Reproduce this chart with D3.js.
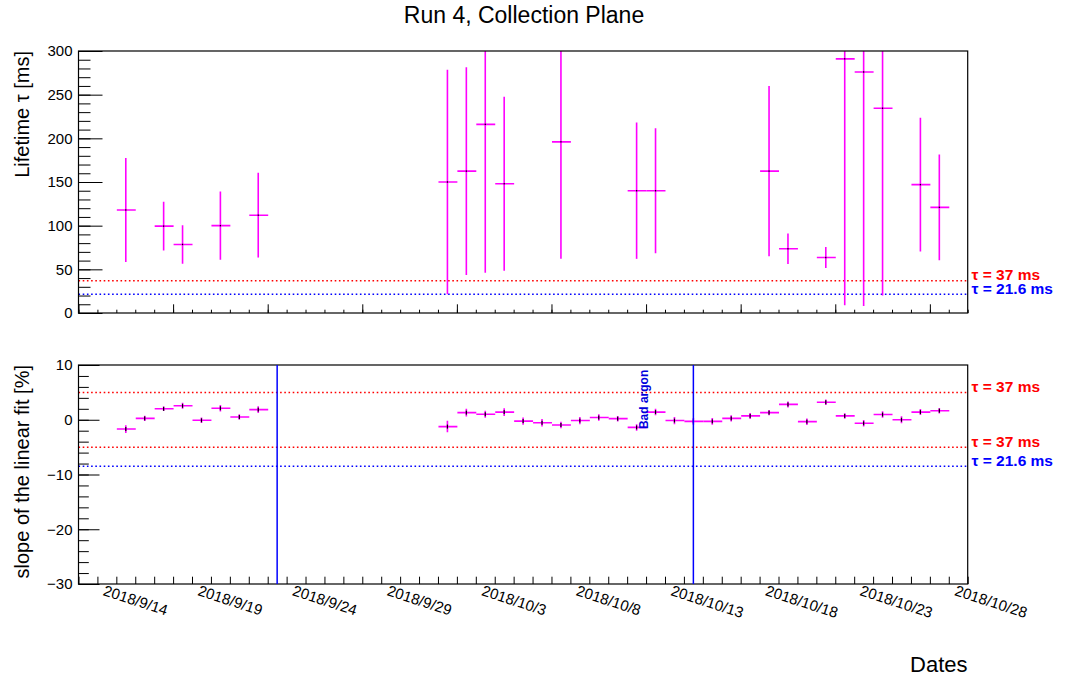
<!DOCTYPE html>
<html>
<head>
<meta charset="utf-8">
<script src="https://cdn.jsdelivr.net/npm/d3@7"></script>
<style>
  body { margin: 0; background: #fff; }
  svg { font-family: "Liberation Sans", Arial, Helvetica, sans-serif; }
</style>
</head>
<body>
<svg id="chart" width="1068" height="679"></svg>
<script>
// x values are day bins counted from the left edge of the axis (bin = [d, d+1])
var lifetimeDays = [2, 4, 5, 7, 9, 19, 20, 21, 22, 25, 29, 30, 36, 37, 39, 40, 41, 42, 44, 45]
var lifetimeVals = [118, 99.5, 78.5, 100, 112, 150, 162.5, 216, 148, 196, 140, 140, 162.5, 73.5, 63.5, 291, 276, 234.5, 147, 121]
var lifetimeErrs = [59.5, 28, 22, 39, 48.5, 128.5, 119, 170, 99.5, 134, 78, 71.5, 97.5, 17.5, 12, 282, 268, 214.5, 76.5, 60.5]

var slopeDays = [2, 3, 4, 5, 6, 7, 8, 9,
    19, 20, 21, 22, 23, 24, 25, 26, 27, 28, 29, 30, 31, 32, 33,
    34, 35, 36, 37, 38, 39, 40, 41, 42, 43, 44, 45]
var slopeVals = [-1.7, 0.25, 2.0, 2.55, -0.1, 2.1, 0.5, 1.85,
    -1.25, 1.3, 1.0, 1.4, -0.25, -0.55, -0.95, -0.15, 0.4, 0.2, -1.4, 1.4, -0.15, -0.3, -0.3,
    0.25, 0.7, 1.3, 2.8, -0.35, 3.2, 0.7, -0.65, 0.95, 0.0, 1.4, 1.65]
var slopeErrs = [0.7, 0.5, 0.4, 0.55, 0.5, 0.6, 0.5, 0.6,
    1.05, 0.7, 0.65, 0.7, 0.65, 0.7, 0.6, 0.65, 0.6, 0.5, 0.6, 0.6, 0.65, 0.6, 0.6,
    0.55, 0.55, 0.5, 0.55, 0.6, 0.5, 0.5, 0.6, 0.6, 0.65, 0.55, 0.5]

var tickDays = [2, 7, 12, 17, 22, 27, 32, 37, 42, 47]
var tickLabels = ['2018/9/14', '2018/9/19', '2018/9/24', '2018/9/29', '2018/10/3',
    '2018/10/8', '2018/10/13', '2018/10/18', '2018/10/23', '2018/10/28']

var badArgonDays = [10.5, 32.5]

// reference lines: [value, label, colour]
var topRefLines = [[37, 'τ = 37 ms', '#ff0000'], [21.6, 'τ = 21.6 ms', '#0000ff']]
var bottomRefLines = [[5, 'τ = 37 ms', '#ff0000'], [-5, 'τ = 37 ms', '#ff0000'], [-8.5, 'τ = 21.6 ms', '#0000ff']]

var magenta = '#ff00ff'

var svg = d3.select('#chart')

var xScale = d3.scaleLinear().domain([0, 47]).range([78.5, 967.7])
var yTop = d3.scaleLinear().domain([0, 300]).range([313, 51])
var yBot = d3.scaleLinear().domain([-30, 10]).range([584, 365])

// title
svg.append('text')
    .attr('x', 524).attr('y', 23)
    .attr('text-anchor', 'middle')
    .style('font-size', '23px')
    .text('Run 4, Collection Plane')

function drawPanel(yScale, opts) {
    var g = svg.append('g')
    var clipId = 'clip' + opts.name
    svg.append('clipPath').attr('id', clipId)
        .append('rect')
        .attr('x', xScale.range()[0]).attr('y', yScale.range()[1])
        .attr('width', xScale.range()[1] - xScale.range()[0])
        .attr('height', yScale.range()[0] - yScale.range()[1])

    // y axis ticks (inward)
    var yMinor = d3.axisLeft(yScale).tickValues(opts.yMinor).tickSize(-opts.yMinorLen).tickFormat('')
    var yMajor = d3.axisLeft(yScale).tickValues(opts.yMajor).tickSize(-opts.yMajorLen).tickPadding(6)
    g.append('g').attr('transform', 'translate(' + xScale.range()[0] + ',0)').call(yMinor)
        .call(a => a.select('.domain').remove())
    g.append('g').attr('transform', 'translate(' + xScale.range()[0] + ',0)').call(yMajor)
        .call(a => a.select('.domain').remove())
        .selectAll('text').style('font-size', '15px').attr('fill', '#000')

    // x ticks (inward)
    var xMinor = d3.axisBottom(xScale).tickValues(d3.range(0, 48)).tickSize(-opts.xMinorLen).tickFormat('')
    g.append('g').attr('transform', 'translate(0,' + yScale.range()[0] + ')').call(xMinor)
        .call(a => a.select('.domain').remove())
    if (opts.xMajor) {
        var xMajor = d3.axisBottom(xScale).tickValues(opts.xMajor).tickSize(-opts.xMajorLen).tickFormat('')
        g.append('g').attr('transform', 'translate(0,' + yScale.range()[0] + ')').call(xMajor)
            .call(a => a.select('.domain').remove())
    }
    g.selectAll('.tick line').attr('stroke', '#000').attr('stroke-width', 1)

    // reference lines
    opts.refs.forEach(function(r) {
        g.append('line')
            .attr('x1', xScale.range()[0]).attr('x2', xScale.range()[1])
            .attr('y1', yScale(r[0])).attr('y2', yScale(r[0]))
            .attr('stroke', r[2]).attr('stroke-width', 1.5)
            .attr('stroke-dasharray', '1.6,2.6')
        g.append('text')
            .attr('x', 971.5).attr('y', yScale(r[0]) - 0.5)
            .attr('fill', r[2])
            .style('font-size', '15.5px').style('font-weight', 'bold')
            .text(r[1])
    })

    // points with error bars
    var pts = g.append('g').attr('clip-path', 'url(#' + clipId + ')')
    var data = opts.days.map((d, i) => ({day: d, val: opts.vals[i], err: opts.errs[i]}))
    var pt = pts.selectAll('.pt').data(data).enter().append('g').attr('class', 'pt')
    pt.append('line')
        .attr('x1', d => xScale(d.day + 0.5)).attr('x2', d => xScale(d.day + 0.5))
        .attr('y1', d => yScale(d.val - d.err)).attr('y2', d => yScale(d.val + d.err))
        .attr('stroke', magenta).attr('stroke-width', 1.6)
    pt.append('line')
        .attr('x1', d => xScale(d.day) + 0.5).attr('x2', d => xScale(d.day + 1) + 0.5)
        .attr('y1', d => yScale(d.val)).attr('y2', d => yScale(d.val))
        .attr('stroke', magenta).attr('stroke-width', 1.6)
    pt.append('rect')
        .attr('x', d => xScale(d.day + 0.5) - 0.6).attr('y', d => yScale(d.val) - opts.markH / 2)
        .attr('width', 1.2).attr('height', opts.markH)
        .attr('fill', '#000')

    // frame
    g.append('rect')
        .attr('x', xScale.range()[0]).attr('y', yScale.range()[1])
        .attr('width', xScale.range()[1] - xScale.range()[0])
        .attr('height', yScale.range()[0] - yScale.range()[1])
        .attr('fill', 'none').attr('stroke', '#000').attr('stroke-width', 1.2)

    // y title
    svg.append('text')
        .attr('transform', 'translate(28.5,' + yScale.range()[1] + ') rotate(-90)')
        .attr('text-anchor', 'end')
        .style('font-size', '20px')
        .text(opts.yTitle)
    return g
}

drawPanel(yTop, {
    name: 'top',
    yMajor: d3.range(0, 301, 50), yMinor: d3.range(0, 301, 10),
    yMajorLen: 24, yMinorLen: 12,
    xMajor: d3.range(0, 46, 5), xMajorLen: 8.7, xMinorLen: 3.3,
    refs: topRefLines,
    days: lifetimeDays, vals: lifetimeVals, errs: lifetimeErrs,
    markH: 1.4,
    yTitle: 'Lifetime τ [ms]'
})

var bottomG = drawPanel(yBot, {
    name: 'bot',
    yMajor: d3.range(-30, 11, 10), yMinor: d3.range(-30, 11, 2),
    yMajorLen: 21, yMinorLen: 10.3,
    xMajor: null, xMinorLen: 7.3,
    refs: bottomRefLines,
    days: slopeDays, vals: slopeVals, errs: slopeErrs,
    markH: 4,
    yTitle: 'slope of the linear fit [%]'
})

// bad argon markers
bottomG.selectAll('.badline').data(badArgonDays).enter().append('line')
    .attr('class', 'badline')
    .attr('x1', d => xScale(d)).attr('x2', d => xScale(d))
    .attr('y1', yBot.range()[1]).attr('y2', yBot.range()[0])
    .attr('stroke', '#0000ff').attr('stroke-width', 1.5)

bottomG.append('text')
    .attr('transform', 'translate(' + (xScale(30) + 2) + ',' + yBot(-1.7) + ') rotate(-90)')
    .attr('fill', '#0000dd')
    .style('font-size', '12px').style('font-weight', 'bold')
    .text('Bad argon')

// date labels
svg.selectAll('.xlabel').data(tickDays).enter().append('text')
    .attr('class', 'xlabel')
    .attr('transform', d => 'translate(' + (xScale(d) - 14) + ',595) rotate(18)')
    .style('font-size', '15px')
    .text((d, i) => tickLabels[i])

svg.append('text')
    .attr('x', 967.5).attr('y', 672)
    .attr('text-anchor', 'end')
    .style('font-size', '22px')
    .text('Dates')
</script>
</body>
</html>
